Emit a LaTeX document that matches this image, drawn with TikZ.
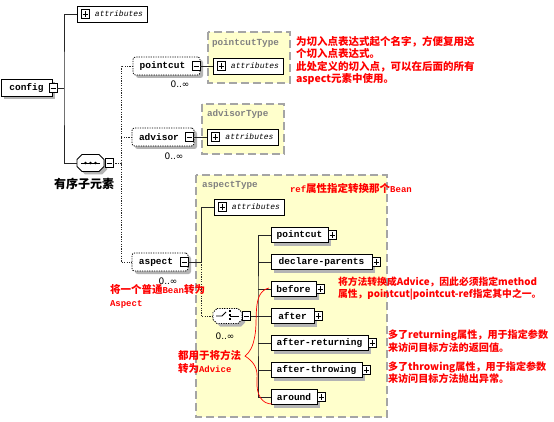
\documentclass[tikz,border=0pt]{standalone}
\usepackage{fontspec}
\usetikzlibrary{shadows,calc}
\setmainfont{Liberation Sans}
\newfontfamily\monof{Liberation Mono}
\newfontfamily\cjk{Noto Sans CJK SC}
\newfontfamily\symf{DejaVu Sans}
\definecolor{grpfill}{RGB}{255,255,204}
\definecolor{grpline}{RGB}{165,165,165}
\definecolor{shd}{RGB}{180,180,180}
\definecolor{anno}{RGB}{255,0,0}
\newcommand\octo[3]{\draw[#3] ([xshift=#2]#1.north west) -- ([xshift=-#2]#1.north east) -- ([yshift=-#2]#1.north east) -- ([yshift=#2]#1.south east) -- ([xshift=-#2]#1.south east) -- ([xshift=#2]#1.south west) -- ([yshift=#2]#1.south west) -- ([yshift=-#2]#1.north west) -- cycle;}
\newcommand\mn[1]{{\monof\fontsize{9}{10}\selectfont #1}}
\begin{document}
\begin{tikzpicture}[x=1pt,y=-1pt,
  every node/.style={inner sep=0pt,outer sep=0pt},
  line/.style={draw=black!85,line width=0.8pt},
  dline/.style={draw=black!85,line width=0.8pt,dash pattern=on 1.2pt off 1.2pt},
  elbox/.style={draw=black,fill=white,line width=0.8pt,minimum height=15pt,anchor=west,
    font=\monof\bfseries\fontsize{9.5}{10}\selectfont,
    drop shadow={shadow xshift=3pt,shadow yshift=-3pt,fill=shd,opacity=1}},
  optbox/.style={elbox,dash pattern=on 1.2pt off 1.2pt,rounded corners=2.5pt,minimum height=18pt},
  attrbox/.style={draw=black,fill=white,line width=0.8pt,minimum height=16pt,minimum width=70pt,anchor=west,
    font=\monof\itshape\fontsize{8}{9}\selectfont},
  expm/.style={draw=black,fill=white,line width=0.6pt,minimum width=8pt,minimum height=9pt,
    path picture={\draw[line width=0.6pt] ([xshift=1.5pt]path picture bounding box.west) -- ([xshift=-1.5pt]path picture bounding box.east);}},
  expp/.style={draw=black,fill=white,line width=0.6pt,minimum width=8pt,minimum height=9pt,
    path picture={\draw[line width=0.6pt] ([xshift=1.5pt]path picture bounding box.west) -- ([xshift=-1.5pt]path picture bounding box.east) ([yshift=-1.5pt]path picture bounding box.north) -- ([yshift=1.5pt]path picture bounding box.south);}},
  grp/.style={fill=grpfill,draw=grpline,line width=1.5pt,dash pattern=on 8pt off 4pt},
  grplabel/.style={anchor=west,text=black!50,font=\monof\bfseries\fontsize{9.3}{10}\selectfont},
  card/.style={font=\symf\fontsize{9}{10}\selectfont},
  note/.style={anchor=west,align=left,text=anno,font=\cjk\bfseries\fontsize{10.5}{12.3}\selectfont},
]
\useasboundingbox (0,0) rectangle (554,422);
\fill[white] (0,0) rectangle (554,422);

% type groups
\draw[grp] (208,32) rectangle (290,83);
\draw[grp] (202,104) rectangle (284,154);
\draw[grp] (196,175) rectangle (387,417);
\node[grplabel] (pctl) at (212,43) {pointcutType};
\node[grplabel] (advtl) at (207,114) {advisorType};
\node[grplabel] (asptl) at (202,185) {aspectType};

% root
\node[elbox,minimum width=51pt,minimum height=17pt] (config) at (1,88) {config};
\node[expm] (configx) at ([xshift=1pt]config.east) {};
\node[attrbox] (attr0) at (77,14) {\hspace*{14pt}attributes};
\node[expp] (attr0p) at ([xshift=8pt]attr0.west) {};

% sequence
\node[minimum width=27pt,minimum height=17pt] (seqsh) at (93.5,166) {};
\node[minimum width=27pt,minimum height=17pt] (seq) at (90.5,163) {};
\octo{seqsh}{5pt}{fill=shd,draw=none}
\octo{seq}{5pt}{fill=white,draw=black,line width=0.8pt}
\draw[line width=0.8pt] ([xshift=4pt]seq.west) -- ([xshift=-4pt]seq.east);
\foreach \d in {-5,0,5} \fill ([xshift=\d pt]seq.center) circle (1.3pt);
\node[expm] (seqx) at (109,163) {};
\node[font=\cjk\bfseries\fontsize{12}{14}\selectfont] (seqlbl) at (84,184) {有序子元素};

% pointcut
\node[optbox,minimum width=67pt] (pc) at (133,66) {pointcut\hspace*{8pt}};
\node[expm] (pcx) at ([xshift=-4pt]pc.east) {};
\node[card] (pccard) at (180,84) {0..∞};
\node[attrbox] (pcattr) at (213,66) {\hspace*{14pt}attributes};
\node[expp] (pcattrp) at ([xshift=8pt]pcattr.west) {};

% advisor
\node[optbox,minimum width=62pt] (adv) at (132,137) {advisor\hspace*{8pt}};
\node[expm] (advx) at ([xshift=-5pt]adv.east) {};
\node[card] (advcard) at (174,156) {0..∞};
\node[attrbox,minimum width=71pt] (advattr) at (207,137) {\hspace*{14pt}attributes};
\node[expp] (advattrp) at ([xshift=8pt]advattr.west) {};

% aspect
\node[optbox,minimum width=56pt] (asp) at (132,262) {aspect\hspace*{8pt}};
\node[expm] (aspx) at ([xshift=-4pt]asp.east) {};
\node[card] (aspcard) at (168,281) {0..∞};
\node[attrbox] (aspattr) at (214,207) {\hspace*{14pt}attributes};
\node[expp] (aspattrp) at ([xshift=8pt]aspattr.west) {};

% choice
\node[minimum width=29pt,minimum height=15pt] (choicesh) at (230.5,319) {};
\node[minimum width=29pt,minimum height=15pt] (choice) at (227.5,316) {};
\octo{choicesh}{4pt}{fill=shd,draw=none}
\octo{choice}{4pt}{fill=white,draw=black,line width=0.8pt,dash pattern=on 1.2pt off 1.2pt}
\draw[line width=0.8pt] ([xshift=3pt]choice.west) -- ++(6,0) -- ++(4,-4);
\draw[line width=0.8pt] ([xshift=2pt]choice.center) -- ([xshift=-3pt]choice.east);
\foreach \d in {-4,0,4} \fill ([xshift=1pt,yshift=\d pt]choice.center) rectangle ++(2.2,-2.2);
\node[expm] (chx) at (246.5,316) {};
\node[card] (chcard) at (225,336) {0..∞};

% choice children
\node[elbox,minimum width=57pt] (c1) at (271,235) {pointcut};
\node[expp] (c1x) at ([xshift=4pt]c1.east) {};
\node[elbox,minimum width=101pt] (c2) at (271,262) {declare-parents};
\node[expp] (c2x) at ([xshift=4pt]c2.east) {};
\node[elbox,minimum width=45pt] (c3) at (271,289) {before};
\node[expp] (c3x) at ([xshift=4pt]c3.east) {};
\node[elbox,minimum width=43pt] (c4) at (271,316) {after};
\node[expp] (c4x) at ([xshift=4pt]c4.east) {};
\node[elbox,minimum width=97pt] (c5) at (271,343) {after-returning};
\node[expp] (c5x) at ([xshift=4pt]c5.east) {};
\node[elbox,minimum width=91pt] (c6) at (271,370) {after-throwing};
\node[expp] (c6x) at ([xshift=4pt]c6.east) {};
\node[elbox,minimum width=46pt] (c7) at (271,397) {around};
\node[expp] (c7x) at ([xshift=4pt]c7.east) {};

% connectors
\coordinate (bus1) at (64,88);
\draw[line] (configx.east) -- (bus1);
\draw[line] (attr0.west) -| (bus1) |- (seq.west);
\coordinate (bus2) at (121,163);
\draw[dline] (seqx.east) -- (bus2);
\draw[dline] (pc.west) -| (bus2) |- (asp.west);
\draw[dline] (adv.west) -- (adv.west -| bus2);
\draw[line] (pcx.east) -- (pcattr.west);
\draw[line] (advx.east) -- (advattr.west);
\coordinate (bus3) at (201,262);
\draw[line] (aspx.east) -- (bus3);
\draw[line] (aspattr.west) -| (bus3);
\draw[dline] (bus3) |- (choice.west);
\coordinate (bus4) at (258,316);
\draw[line] (chx.east) -- (bus4);
\draw[line] (c1.west) -| (bus4) |- (c7.west);
\foreach \c in {c2,c3,c4,c5,c6} \draw[line] (\c.west) -- (\c.west -| bus4);

% annotations
\node[note] (n1) at (296,60.5) {为切入点表达式起个名字，方便复用这\\个切入点表达式。\\此处定义的切入点，可以在后面的所有\\aspect元素中使用。};
\node[note] (n2) at (290,188) {\mn{ref}属性指定转换那个\mn{Bean}};
\node[note,font=\cjk\bfseries\fontsize{10.5}{13}\selectfont] (n3) at (110,296.5) {将一个普通\mn{Bean}转为\\\mn{Aspect}};
\node[note,font=\cjk\bfseries\fontsize{9.8}{11.5}\selectfont] (n4) at (338,288.5) {将方法转换成Advice，因此必须指定method\\属性，pointcut|pointcut-ref指定其中之一。};
\node[note,font=\cjk\bfseries\fontsize{10.1}{12.3}\selectfont] (n5) at (388,341) {多了returning属性，用于指定参数\\来访问目标方法的返回值。};
\node[note,font=\cjk\bfseries\fontsize{10.1}{11.7}\selectfont] (n6) at (388,372.5) {多了throwing属性，用于指定参数\\来访问目标方法抛出异常。};
\node[note,font=\cjk\bfseries\fontsize{10.5}{13}\selectfont] (n7) at (178,361.7) {都用于将方法\\转为\mn{Advice}};
\draw[anno,line width=0.7pt] (269,288) .. controls (252,292) and (258,318) .. (255,335) .. controls (253,347) and (250,352) .. (245,356) .. controls (254,362) and (258,368) .. (257,380) .. controls (256,395) and (262,404) .. (272,404);
\end{tikzpicture}
\end{document}
